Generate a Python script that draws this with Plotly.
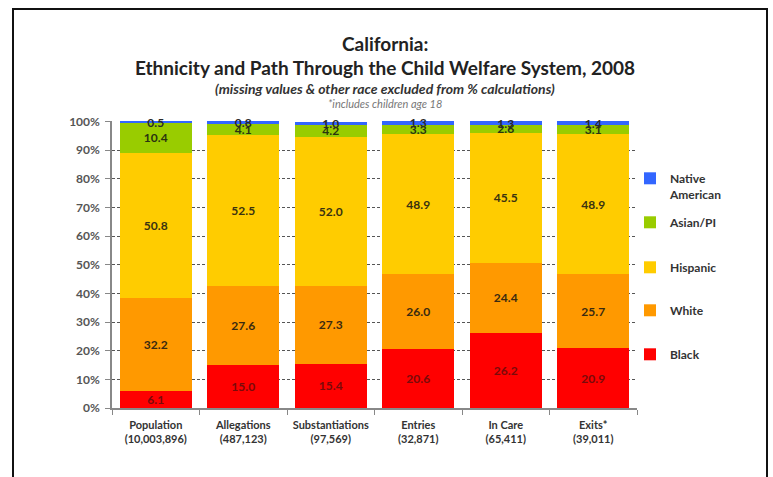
import plotly.graph_objects as go

categories = ["Population<br>(10,003,896)", "Allegations<br>(487,123)", "Substantiations<br>(97,569)",
              "Entries<br>(32,871)", "In Care<br>(65,411)", "Exits*<br>(39,011)"]
black = [6.1, 15.0, 15.4, 20.6, 26.2, 20.9]
white = [32.2, 27.6, 27.3, 26.0, 24.4, 25.7]
hispanic = [50.8, 52.5, 52.0, 48.9, 45.5, 48.9]
asian = [10.4, 4.1, 4.2, 3.3, 2.6, 3.1]
native = [0.5, 0.8, 1.0, 1.3, 1.3, 1.4]
y_ticks = [0, 10, 20, 30, 40, 50, 60, 70, 80, 90, 100]
y_tick_labels = ["0%", "10%", "20%", "30%", "40%", "50%", "60%", "70%", "80%", "90%", "100%"]

series = [
    ("Black", black, "#FF0000", "#7A0A0A"),
    ("White", white, "#FF9900", "#3A2A10"),
    ("Hispanic", hispanic, "#FFCC00", "#3A3310"),
    ("Asian/PI", asian, "#99CC00", "#2A3310"),
    ("Native<br>American", native, "#3366FF", "#2A2A2A"),
]

FONT = "Lato"
L, R, T, B = 112, 637, 121, 408
W, H = 773, 477
pw, ph = R - L, B - T

def px(x):
    return (x - L) / pw

def py(y):
    return (B - y) / ph

legend_y = [354, 310, 267, 222, 178]

fig = go.Figure()
for i, (name, vals, col, tcol) in enumerate(series):
    lg = "legend" if i == 0 else f"legend{i+1}"
    fig.add_trace(go.Bar(
        x=categories, y=vals, name=name, marker_color=col, marker_line_width=0,
        texttemplate="%{y:.1f}", textposition="inside", insidetextanchor="middle",
        textangle=0, constraintext="none", cliponaxis=False,
        textfont=dict(family=FONT, size=12, color=tcol, weight="bold"),
        hoverinfo="skip", legend=lg,
    ))

layout_legends = {}
for i, yy in enumerate(legend_y):
    key = "legend" if i == 0 else f"legend{i+1}"
    layout_legends[key] = dict(
        x=px(630), y=py(yy - 14), xanchor="left", yanchor="top",
        bgcolor="rgba(0,0,0,0)", valign="top",
        font=dict(family=FONT, size=12, color="#333333", weight="bold"),
        itemwidth=30, tracegroupgap=0,
    )

fig.update_layout(
    width=W, height=H,
    margin=dict(l=L, r=W - R, t=T, b=H - B),
    paper_bgcolor="white", plot_bgcolor="white",
    barmode="stack", bargap=0.175,
    showlegend=True,
    font=dict(family=FONT),
    **layout_legends,
)

fig.update_xaxes(
    type="category", showline=True, linecolor="#888888", linewidth=1.5,
    ticks="outside", tickson="boundaries", ticklen=5, tickcolor="#888888",
    tickfont=dict(family=FONT, size=11, color="#333333", weight="bold"),
    ticklabelstandoff=6,
    showgrid=False,
)
fig.update_yaxes(
    range=[0, 100.12], tickmode="array", tickvals=y_ticks, ticktext=y_tick_labels,
    showline=True, linecolor="#888888", linewidth=1.5,
    ticks="outside", ticklen=5, tickcolor="#888888",
    tickfont=dict(family=FONT, size=12, color="#555555", weight="bold"),
    ticklabelstandoff=3,
    showgrid=True, gridcolor="#555555", griddash="3px,2px", gridwidth=1,
    zeroline=False,
)

cx = px(385)
annots = [
    ("California:", 43, 19, "#222222", "bold", "normal"),
    ("Ethnicity and Path Through the Child Welfare System, 2008", 68, 19, "#222222", "bold", "normal"),
    ("(missing values &amp; other race excluded from % calculations)", 88, 14, "#333333", "bold", "italic"),
    ("*includes children age 18", 103, 11, "#777777", "normal", "italic"),
]
for txt, yy, sz, col, wt, st in annots:
    fig.add_annotation(
        text=txt, x=cx, y=py(yy), xref="paper", yref="paper",
        xanchor="center", yanchor="middle", showarrow=False,
        font=dict(family=FONT, size=sz, color=col, weight=wt, style=st),
    )

fig.add_shape(type="rect", xref="paper", yref="paper",
              x0=px(13), x1=px(767), y0=py(490), y1=py(9),
              line=dict(color="#111111", width=2), fillcolor="rgba(0,0,0,0)", layer="above")

fig.write_html("out.html")
